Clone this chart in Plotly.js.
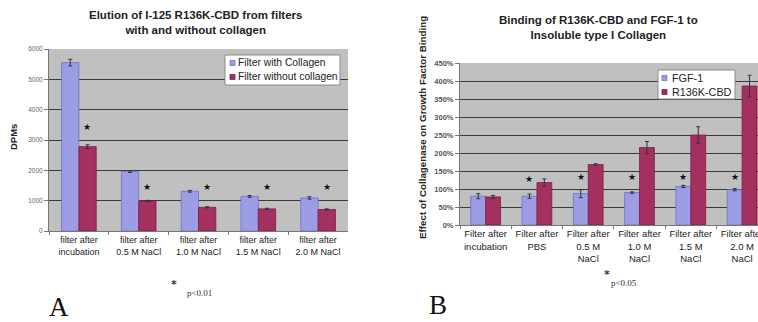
<!DOCTYPE html>
<html>
<head>
<meta charset="utf-8">
<script src="https://cdn.plot.ly/plotly-3.0.1.min.js"></script>
<style>html,body{margin:0;padding:0;background:#fff;}#chart{width:758px;height:322px;}</style>
</head>
<body>
<div id="chart"></div>
<script>
// ---- Panel A data ----
const catsA = ["filter after<br>incubation", "filter after<br>0.5 M NaCl", "filter after<br>1.0 M NaCl", "filter after<br>1.5 M NaCl", "filter after<br>2.0 M NaCl"];
const seriesNamesA = ["Filter with Collagen", "Filter without collagen"];
const withCollagen = [5550, 1960, 1310, 1140, 1090];
const withCollagenErr = [110, 30, 30, 30, 40];
const withoutCollagen = [2780, 990, 780, 730, 710];
const withoutCollagenErr = [60, 20, 20, 20, 20];
const starLevelA = [3430, 1450, 1450, 1450, 1450];

// ---- Panel B data ----
const catsB = ["Filter after<br>incubation", "Filter after<br>PBS", "Filter after<br>0.5 M<br>NaCl", "Filter after<br>1.0 M<br>NaCl", "Filter after<br>1.5 M<br>NaCl", "Filter after<br>2.0 M<br>NaCl"];
const seriesNamesB = ["FGF-1", "R136K-CBD"];
const fgf1 = [80, 80, 87, 90, 107, 98];
const fgf1Err = [7, 6, 11, 2, 3, 3];
const r136k = [78, 118, 168, 215, 250, 386];
const r136kErr = [4, 10, 2, 17, 23, 30];
const starLevelB = [null, 128, 134, 134, 134, 134];

const lav = "#9d9de6", lavEdge = "#6f6fc8";
const mar = "#a3305f", marEdge = "#7a1f45";
const font = "Liberation Sans, Arial, sans-serif";
const serif = "Liberation Serif, Times New Roman, serif";
const W = 758, H = 322;
const px = x => x / W, py = y => 1 - y / H;

const errStyle = (arr) => ({type: "data", array: arr, visible: true, color: "#333344", thickness: 1, width: 2});

const traces = [
  {type: "bar", name: seriesNamesA[0], x: catsA, y: withCollagen, error_y: errStyle(withCollagenErr),
   marker: {color: lav, line: {color: lavEdge, width: 0.8}}, xaxis: "x", yaxis: "y"},
  {type: "bar", name: seriesNamesA[1], x: catsA, y: withoutCollagen, error_y: errStyle(withoutCollagenErr),
   marker: {color: mar, line: {color: marEdge, width: 0.8}}, xaxis: "x", yaxis: "y"},
  {type: "bar", name: seriesNamesB[0], x: catsB, y: fgf1, error_y: errStyle(fgf1Err),
   marker: {color: lav, line: {color: lavEdge, width: 0.8}}, xaxis: "x2", yaxis: "y2"},
  {type: "bar", name: seriesNamesB[1], x: catsB, y: r136k, error_y: errStyle(r136kErr),
   marker: {color: mar, line: {color: marEdge, width: 0.8}}, xaxis: "x2", yaxis: "y2"}
];

const annotations = [];
const shapes = [];
// significance stars
starLevelA.forEach((v, i) => { if (v != null) annotations.push({xref: "x", yref: "y", x: catsA[i], y: v, xshift: 8.5, text: "★", showarrow: false, font: {family: "DejaVu Sans", size: 9, color: "#111"}}); });
starLevelB.forEach((v, i) => { if (v != null) annotations.push({xref: "x2", yref: "y2", x: catsB[i], y: v, xshift: -7.5, text: "★", showarrow: false, font: {family: "DejaVu Sans", size: 9, color: "#111"}}); });

const pap = (x, y, text, f, extra) => Object.assign({xref: "paper", yref: "paper", x: px(x), y: py(y), text: text, showarrow: false, font: f, xanchor: "center", yanchor: "middle"}, extra || {});
annotations.push(
  pap(195, 22, "<b>Elution of I-125 R136K-CBD from filters<br>with and without collagen</b>", {family: font, size: 11.5, color: "#222"}),
  pap(598, 28, "<b>Binding of R136K-CBD and FGF-1 to<br>Insoluble type I Collagen</b>", {family: font, size: 11.5, color: "#222"}),
  pap(13, 137, "<b>DPMs</b>", {family: font, size: 9.5, color: "#222"}, {textangle: -90}),
  pap(423, 128, "<b>Effect of Collagenase on Growth Factor Binding</b>", {family: font, size: 9.8, color: "#222"}, {textangle: -90}),
  pap(174, 284, "<b>*</b>", {family: "DejaVu Sans", size: 11, color: "#333"}),
  pap(199, 293, "p<0.01", {family: serif, size: 9, color: "#333"}),
  pap(59, 307, "A", {family: serif, size: 27, color: "#111"}),
  pap(607, 274, "<b>*</b>", {family: "DejaVu Sans", size: 11, color: "#333"}),
  pap(624, 283, "p<0.05", {family: serif, size: 9, color: "#333"}),
  pap(438, 305, "B", {family: serif, size: 27, color: "#111"})
);

// hand-built legends (Excel-like compact boxes)
function legendBox(x0, y0, x1, y1, names, colors, edges, sqX, rowY, textX, fsize) {
  shapes.push({type: "rect", xref: "paper", yref: "paper", x0: px(x0), x1: px(x1), y0: py(y1), y1: py(y0),
    fillcolor: "#fff", line: {color: "#8a8a8a", width: 1}, layer: "above"});
  names.forEach((n, i) => {
    shapes.push({type: "rect", xref: "paper", yref: "paper", x0: px(sqX), x1: px(sqX + 5), y0: py(rowY[i] + 2.5), y1: py(rowY[i] - 2.5),
      fillcolor: colors[i], line: {color: edges[i], width: 0.8}, layer: "above"});
    annotations.push({xref: "paper", yref: "paper", x: px(textX), y: py(rowY[i]), xanchor: "left", yanchor: "middle",
      text: n, showarrow: false, font: {family: font, size: fsize, color: "#222"}});
  });
}
legendBox(225, 55, 340, 85, seriesNamesA, [lav, mar], [lavEdge, marEdge], 230, [63, 77], 236, 10.3);
legendBox(658, 70, 735, 99, seriesNamesB, [lav, mar], [lavEdge, marEdge], 662, [78, 92], 670, 10.8);

const yAxisBase = {showline: true, linecolor: "#777", linewidth: 1, ticks: "outside", ticklen: 4, tickcolor: "#777",
  showgrid: true, gridcolor: "#3a3a3a", gridwidth: 1, zeroline: false, fixedrange: true};
const xAxisBase = {showline: true, linecolor: "#777", linewidth: 1, ticks: "outside", ticklen: 3, tickcolor: "#777",
  tickson: "boundaries", showgrid: false, fixedrange: true, tickangle: 0, type: "category"};

const layout = {
  width: W, height: H,
  margin: {l: 0, r: 0, t: 0, b: 0},
  paper_bgcolor: "#fff", plot_bgcolor: "#c0c0c0",
  barmode: "group", bargap: 0.42, bargroupgap: 0,
  showlegend: false,
  xaxis: Object.assign({}, xAxisBase, {domain: [px(49), px(348)], anchor: "y", range: [-0.5, 4.5],
    tickfont: {family: font, size: 9, color: "#222"}}),
  yaxis: Object.assign({}, yAxisBase, {domain: [py(231), py(49)], anchor: "x", range: [0, 6000], dtick: 1000,
    tickfont: {family: font, size: 6.5, color: "#666"}}),
  xaxis2: Object.assign({}, xAxisBase, {domain: [px(460), 1], anchor: "y2", range: [-0.5, 5.31],
    tickfont: {family: font, size: 9.5, color: "#222"}}),
  yaxis2: Object.assign({}, yAxisBase, {domain: [py(225), py(63)], anchor: "x2", range: [0, 450], dtick: 50, ticksuffix: "%",
    tickfont: {family: font, size: 7.5, color: "#555", weight: "bold"}}),
  shapes: shapes,
  annotations: annotations
};

Plotly.newPlot("chart", traces, layout, {displayModeBar: false, staticPlot: true});
</script>
</body>
</html>
